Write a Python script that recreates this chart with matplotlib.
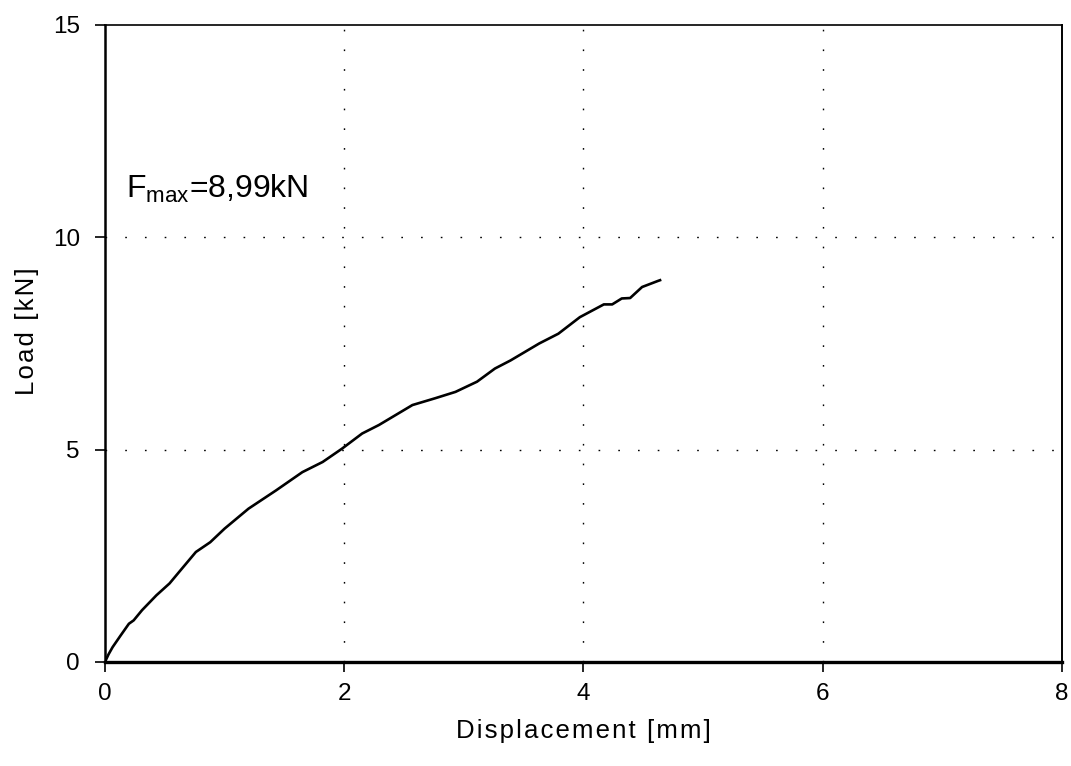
import numpy as np
import matplotlib
matplotlib.use("Agg")
import matplotlib.pyplot as plt

plt.rcParams["font.family"] = ["Liberation Sans", "DejaVu Sans"]
plt.rcParams["mathtext.fontset"] = "custom"
plt.rcParams["mathtext.rm"] = "Liberation Sans"
plt.rcParams["mathtext.it"] = "Liberation Sans"

# load-displacement curve
disp = [0.0, 0.03, 0.064, 0.13, 0.20, 0.24, 0.31, 0.43, 0.54, 0.62, 0.76, 0.88,
        1.00, 1.20, 1.43, 1.65, 1.82, 1.98, 2.15, 2.29, 2.57, 2.76, 2.93,
        3.11, 3.26, 3.39, 3.63, 3.79, 3.97, 4.17, 4.24, 4.32, 4.39, 4.49,
        4.62, 4.64]
load = [0.0, 0.18, 0.35, 0.62, 0.90, 0.98, 1.22, 1.57, 1.85, 2.12, 2.59, 2.82,
        3.14, 3.61, 4.04, 4.47, 4.71, 5.02, 5.38, 5.58, 6.05, 6.21, 6.36,
        6.60, 6.91, 7.10, 7.50, 7.73, 8.12, 8.42, 8.42, 8.56, 8.57, 8.83,
        8.97, 8.99]

xticks = [0, 2, 4, 6, 8]
yticks = [0, 5, 10, 15]
xlabel = "Displacement [mm]"
ylabel = "Load [kN]"
note = r"F$_{\rm max}$=8,99kN"


def spaced(s, gap="\u200a"):
    return gap.join(s)


fig = plt.figure(figsize=(10.71, 7.66), dpi=100)
ax = fig.add_axes([0.098, 0.1358, 0.8936, 0.8316])

ax.plot(disp, load, color="black", lw=1.9)

ax.set_xlim(0, 8)
ax.set_ylim(0, 15)
ax.set_xticks(xticks)
ax.set_yticks(yticks)
ax.tick_params(labelsize=17.5, direction="out", length=7, width=1.2)
ax.tick_params(axis="y", pad=11)
ax.tick_params(axis="x", pad=8)

dot = (0, (1.2, 13))
for x in xticks[1:-1]:
    ax.axvline(x, color="black", lw=1.0, ls=dot)
for y in yticks[1:-1]:
    ax.axhline(y, color="black", lw=1.0, ls=dot)

ax.spines["left"].set_linewidth(1.8)
ax.spines["bottom"].set_linewidth(2.4)
ax.spines["top"].set_linewidth(1.2)
ax.spines["right"].set_linewidth(1.4)

ax.set_xlabel(spaced(xlabel), fontsize=18.5, labelpad=10)
ax.set_ylabel(spaced(ylabel), fontsize=18.5)
ax.yaxis.set_label_coords(-0.069, 0.52)

ax.text(0.18, 11.15, note, fontsize=23, va="center", ha="left")

fig.savefig("out.png", dpi=100)
